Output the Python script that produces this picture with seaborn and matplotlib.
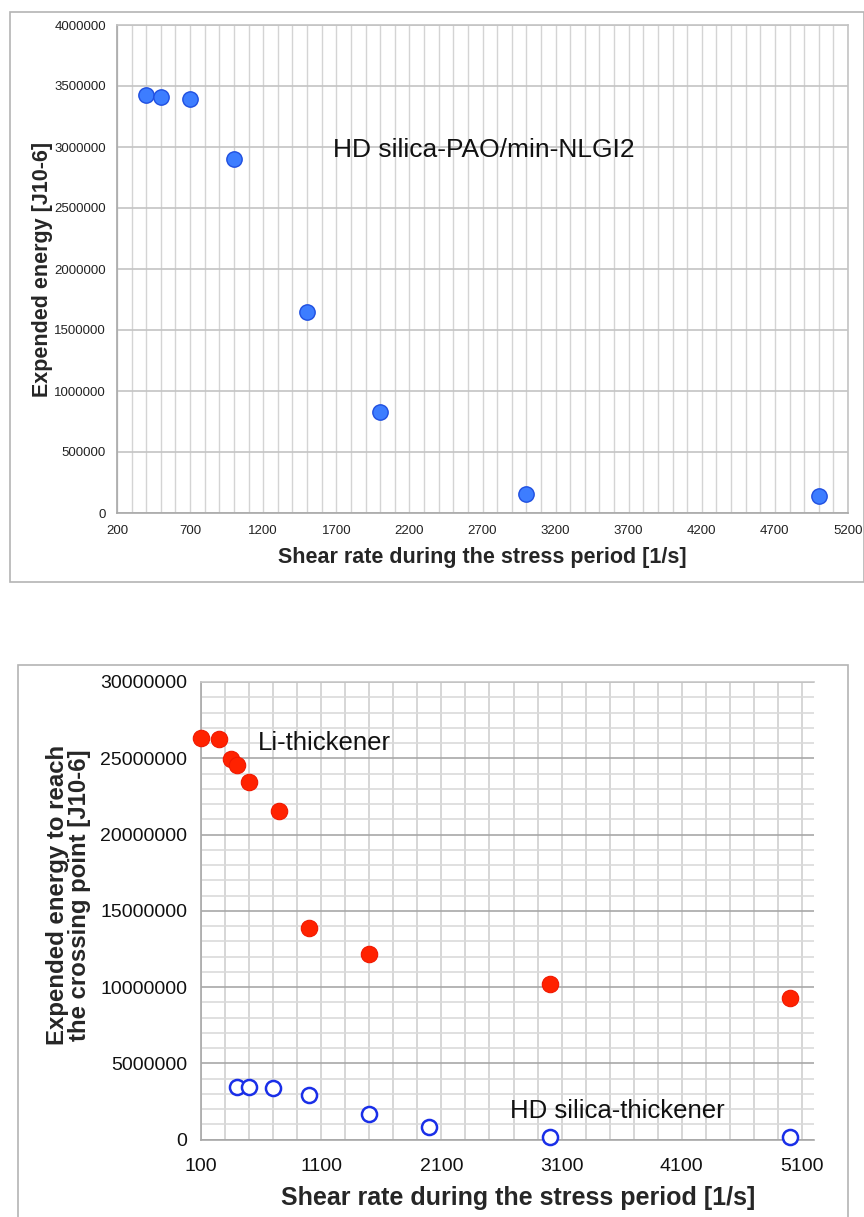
import matplotlib
matplotlib.use("Agg")
import matplotlib.pyplot as plt
import matplotlib.ticker as mticker
from matplotlib.patches import Rectangle
import seaborn as sns
import pandas as pd
import numpy as np

# ---------------- data ----------------
# Top panel: HD silica-PAO/min-NLGI2
pao_shear = [400, 500, 700, 1000, 1500, 2000, 3000, 5000]
pao_energy = [3430000, 3412000, 3391000, 2904000, 1648000, 828000, 158000, 139000]

# Bottom panel: Li-thickener
li_shear = [100, 250, 350, 400, 500, 750, 1000, 1500, 3000, 5000]
li_energy = [26360000, 26240000, 24980000, 24540000, 23430000, 21530000, 13900000, 12160000, 10190000, 9250000]

# Bottom panel: HD silica-thickener
hd_shear = [400, 500, 700, 1000, 1500, 2000, 3000, 5000]
hd_energy = [3420000, 3420000, 3400000, 2940000, 1650000, 840000, 180000, 140000]

top_xticks = [200, 700, 1200, 1700, 2200, 2700, 3200, 3700, 4200, 4700, 5200]
top_yticks = [0, 500000, 1000000, 1500000, 2000000, 2500000, 3000000, 3500000, 4000000]
bot_xticks = [100, 1100, 2100, 3100, 4100, 5100]
bot_yticks = [0, 5000000, 10000000, 15000000, 20000000, 25000000, 30000000]

top_label = "HD silica-PAO/min-NLGI2"
li_label = "Li-thickener"
hd_label = "HD silica-thickener"
xlab = "Shear rate during the stress period [1/s]"
top_ylab = "Expended energy [J10-6]"
bot_ylab = "Expended energy to reach\nthe crossing point [J10-6]"

# ---------------- style ----------------
sns.set_style("white")
plt.rcParams["font.family"] = ["Liberation Sans", "DejaVu Sans"]

W, H = 864, 1217
fig = plt.figure(figsize=(W / 100, H / 100), dpi=100)

def fx(px):
    return px / W

def fy(py):
    return 1 - py / H

# panel frames
fig.patches.append(Rectangle((fx(9.5), fy(582)), fx(863.5) - fx(9.5), fy(11.7) - fy(582),
                             transform=fig.transFigure, fill=False, edgecolor="#B4B4B4", lw=1.2))
fig.patches.append(Rectangle((fx(18), fy(1218)), fx(848) - fx(18), fy(665) - fy(1218),
                             transform=fig.transFigure, fill=False, edgecolor="#B4B4B4", lw=1.2))

fmt = mticker.FuncFormatter(lambda v, p: f"{int(round(v))}")

# ---------------- top panel ----------------
ax1 = fig.add_axes([fx(117), fy(513), fx(848) - fx(117), fy(25) - fy(513)])
df_top = pd.DataFrame({"shear": pao_shear, "energy": pao_energy})
sns.scatterplot(data=df_top, x="shear", y="energy", ax=ax1, s=122, color="#3D7DFF",
                edgecolor="#1F4FE0", linewidth=1.0, zorder=5, clip_on=False)
ax1.set_xlim(200, 5200)
ax1.set_ylim(0, 4000000)
ax1.set_xticks(top_xticks)
ax1.set_yticks(top_yticks)
ax1.xaxis.set_minor_locator(mticker.MultipleLocator(100))
ax1.xaxis.set_major_formatter(fmt)
ax1.yaxis.set_major_formatter(fmt)
ax1.grid(which="major", axis="y", color="#C4C4C4", lw=1.2)
ax1.grid(which="both", axis="x", color="#D4D4D4", lw=1.0)
ax1.set_axisbelow(True)
for sp in ax1.spines.values():
    sp.set_color("#C4C4C4")
    sp.set_linewidth(1.2)
ax1.spines["left"].set_color("#A8A8A8")
ax1.spines["bottom"].set_color("#A8A8A8")
ax1.tick_params(axis="both", which="major", labelsize=9.5, labelcolor="#222222",
                length=4, color="#A8A8A8", width=1, pad=4)
ax1.tick_params(axis="x", which="minor", length=0)
ax1.tick_params(axis="x", which="major", length=0, pad=9)
ax1.set_xlabel(xlab, fontsize=15.5, fontweight="bold", labelpad=7)
ax1.set_ylabel(top_ylab, fontsize=15.5, fontweight="bold", labelpad=1)
ax1.text(1677, 2975000, top_label, fontsize=19, va="center", ha="left", color="#111111")

# ---------------- bottom panel ----------------
ax2 = fig.add_axes([fx(201), fy(1139.5), fx(814) - fx(201), fy(682) - fy(1139.5)])
df_li = pd.DataFrame({"shear": li_shear, "energy": li_energy})
df_hd = pd.DataFrame({"shear": hd_shear, "energy": hd_energy})
sns.scatterplot(data=df_li, x="shear", y="energy", ax=ax2, s=140, color="#FF2200",
                edgecolor="#F01800", linewidth=0.8, zorder=5, clip_on=False)
sns.scatterplot(data=df_hd, x="shear", y="energy", ax=ax2, s=118, facecolor="white",
                edgecolor="#1A2FE8", linewidth=1.8, zorder=5, clip_on=False)
ax2.set_xlim(100, 5200)
ax2.set_ylim(0, 30000000)
ax2.set_xticks(bot_xticks)
ax2.set_yticks(bot_yticks)
ax2.xaxis.set_minor_locator(mticker.FixedLocator(np.arange(300, 5200, 200)))
ax2.yaxis.set_minor_locator(mticker.MultipleLocator(1000000))
ax2.xaxis.set_major_formatter(fmt)
ax2.yaxis.set_major_formatter(fmt)
ax2.grid(which="major", axis="y", color="#A8A8A8", lw=1.2)
ax2.grid(which="minor", axis="y", color="#DADADA", lw=1.2)
ax2.grid(which="both", axis="x", color="#D0D0D0", lw=1.2)
ax2.set_axisbelow(True)
for sp in ax2.spines.values():
    sp.set_color("#C8C8C8")
    sp.set_linewidth(1.2)
ax2.spines["right"].set_visible(False)
ax2.spines["left"].set_color("#A8A8A8")
ax2.spines["bottom"].set_color("#A8A8A8")
ax2.tick_params(axis="both", which="major", labelsize=14, labelcolor="#111111",
                length=5, color="#A8A8A8", width=1.2, pad=5)
ax2.tick_params(axis="x", which="major", pad=8)
ax2.tick_params(axis="both", which="minor", length=0)
ax2.set_xlabel(xlab, fontsize=18, fontweight="bold")
ax2.set_ylabel(bot_ylab, fontsize=17.3, fontweight="bold", linespacing=0.95)
ax2.xaxis.set_label_coords((518 - 201) / 613, -(1186 - 1139.5) / 457.5)
ax2.yaxis.set_label_coords(-(201 - 91) / 613, (1139.5 - 895) / 457.5)
ax2.text(577, 25980000, li_label, fontsize=18.5, va="center", ha="left", color="#111111")
ax2.text(2667, 1870000, hd_label, fontsize=18.5, va="center", ha="left", color="#111111")

fig.savefig("out.png", dpi=100)
